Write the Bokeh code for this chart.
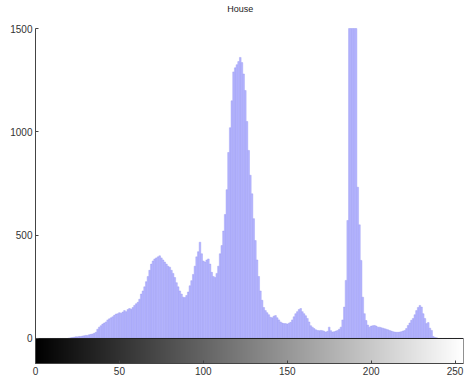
import numpy as np
from bokeh.plotting import figure
from bokeh.models import FixedTicker, Range1d, Label
from bokeh.palettes import Greys256
from bokeh.embed import file_html
from bokeh.resources import INLINE

title_text = "House"
levels = list(range(256))
counts = (
    [0] * 20
    + [2, 3, 5, 6, 8, 8, 10, 10, 12, 13, 15, 15, 18, 20, 22, 25, 30, 45, 55, 62]
    + [70, 75, 80, 90, 95, 100, 105, 112, 118, 120, 125, 122, 128, 135, 130, 140, 145, 142, 150, 160]
    + [168, 175, 190, 215, 230, 250, 275, 300, 330, 360, 375, 385, 390, 395, 400, 390, 380, 370, 360, 350]
    + [345, 330, 315, 295, 270, 250, 230, 215, 200, 198, 208, 225, 255, 280, 310, 350, 395, 420, 466, 410]
    + [375, 370, 380, 385, 360, 320, 300, 295, 315, 350, 410, 450, 520, 600, 720, 900, 1020, 1150, 1290, 1310]
    + [1325, 1340, 1360, 1335, 1280, 1200, 1050, 910, 790, 700, 580, 474, 380, 300, 230, 185, 150, 135, 125, 115]
    + [103, 100, 108, 111, 100, 90, 80, 75, 72, 72, 70, 74, 78, 90, 105, 120, 130, 140, 145, 130]
    + [120, 110, 97, 80, 62, 55, 48, 42, 39, 38, 39, 38, 35, 31, 35, 55, 38, 31, 33, 36]
    + [39, 45, 55, 90, 152, 281, 571, 1800, 2500, 3000, 2800, 2000, 732, 550, 378, 200, 120, 87, 65, 55]
    + [60, 62, 63, 60, 55, 55, 52, 50, 47, 45, 42, 39, 36, 33, 31, 30, 30, 31, 33, 36]
    + [39, 48, 63, 75, 88, 97, 115, 135, 150, 160, 152, 120, 97, 72, 77, 50, 39, 10, 5, 3]
    + [0] * 16
)
x_ticks = [0, 50, 100, 150, 200, 250]
y_ticks = [0, 500, 1000, 1500]
y_max = 1500
bar_depth = 121  # height of the gray-level strip in count units

# frame spans the whole height above the x axis; the axis is cut at y_max
units_per_px = (y_max + bar_depth) / 335.0
y_top = y_max + 28 * units_per_px

p = figure(width=464, height=381, output_backend="svg", toolbar_location=None,
           x_range=Range1d(0, 255), y_range=Range1d(-bar_depth, y_top),
           min_border_left=35, min_border_right=1, min_border_top=0, min_border_bottom=18)
p.outline_line_color = None
p.grid.visible = False
p.background_fill_color = "white"

# histogram (clipped at the axis top, as in the reference)
p.vbar(x=levels, top=np.minimum(counts, y_max), bottom=0, width=1.0,
       fill_color="#b5b5ff", line_color="#9a9af0", line_width=0.4)

# gray-level strip
p.image(image=[np.array([levels], dtype=float)], x=0, y=-bar_depth, dw=255, dh=bar_depth,
        palette=Greys256, level="image")
p.quad(left=[0], right=[255], bottom=[-bar_depth], top=[0], fill_color=None,
       line_color="#222222", line_width=1)

# axes
for ax in (p.xaxis[0], p.yaxis[0]):
    ax.major_tick_in = 3
    ax.major_tick_out = 0
    ax.minor_tick_line_color = None
    ax.axis_line_color = "#444444"
    ax.major_tick_line_color = "#444444"
    ax.major_label_text_font = "Liberation Sans"
    ax.major_label_text_font_size = "10px"
    ax.major_label_text_color = "#333333"
p.xaxis[0].ticker = FixedTicker(ticks=x_ticks)
p.yaxis[0].ticker = FixedTicker(ticks=y_ticks)
p.yaxis[0].bounds = (-bar_depth, y_max)
p.xaxis[0].major_label_standoff = 3
p.yaxis[0].major_label_standoff = 3

p.add_layout(Label(x=122, y=y_max, y_offset=20, text=title_text, text_align="center",
                   text_baseline="middle", text_font="Liberation Sans",
                   text_font_size="9px", text_color="#222222"))

open("out.html", "w").write(file_html(p, INLINE))
